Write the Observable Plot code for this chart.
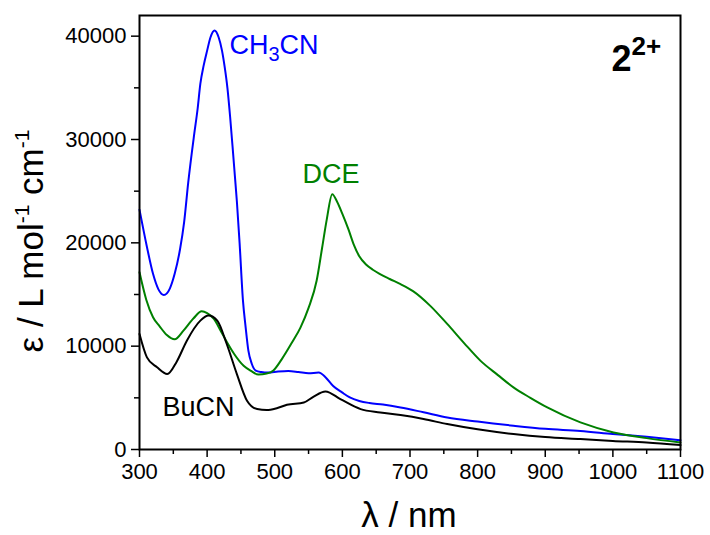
<!DOCTYPE html>
<html>
<head>
<meta charset="utf-8">
<script src="https://cdn.jsdelivr.net/npm/d3@7"></script>
<script src="https://cdn.jsdelivr.net/npm/@observablehq/plot@0.6"></script>
<style>
  body { margin: 0; background: #fff; }
  #chart svg { display: block; }
</style>
</head>
<body>
<div id="chart"></div>
<script>
// Absorption spectra of 2^2+ in three solvents (wavelength in nm, epsilon in L mol-1 cm-1)
const wlCH3CN = [300, 311, 320, 328, 336, 345, 352, 360, 366, 372, 381, 386, 390, 395, 400, 405, 411, 417, 422, 426, 430, 434, 438, 441, 444, 448, 453, 457, 461, 466, 472, 480, 490, 505, 520, 535, 550, 565, 575, 586, 600, 611, 625, 640, 660, 686, 720, 755, 800, 853, 900, 952, 1000, 1050, 1100];
const epsCH3CN = [23200, 19600, 17000, 15500, 14950, 15600, 17000, 19400, 22000, 25800, 30560, 33000, 35400, 37200, 38600, 39900, 40550, 39900, 38600, 37000, 35000, 32200, 29000, 26500, 24000, 20000, 14400, 11800, 9560, 8300, 7630, 7500, 7450, 7550, 7600, 7500, 7370, 7450, 7000, 6170, 5500, 5040, 4700, 4500, 4350, 4070, 3600, 3100, 2700, 2300, 2000, 1800, 1500, 1230, 900];

const wlDCE = [300, 310, 320, 330, 340, 352, 365, 380, 392, 400, 410, 420, 430, 440, 454, 465, 476, 488, 498, 510, 525, 538, 550, 562, 570, 577, 585, 592, 600, 609, 617, 625, 635, 645, 655, 670, 686, 705, 730, 755, 780, 804, 830, 853, 878, 903, 952, 1001, 1050, 1100];
const epsDCE = [17150, 14500, 12800, 11900, 11100, 10660, 11500, 12700, 13370, 13200, 12640, 11500, 10300, 9240, 8100, 7600, 7250, 7350, 7650, 8700, 10300, 11800, 13700, 16350, 19500, 22300, 24700, 24000, 22800, 21300, 19800, 18700, 17900, 17400, 17000, 16500, 16000, 15300, 13900, 12150, 10300, 8600, 7200, 6010, 5000, 4070, 2620, 1650, 1100, 680];

const wlBuCN = [300, 311, 326, 341, 355, 370, 390, 402, 415, 429, 444, 459, 474, 488, 503, 518, 543, 557, 575, 597, 627, 656, 686, 720, 755, 800, 853, 900, 952, 1000, 1050, 1100];
const epsBuCN = [11180, 8920, 7950, 7300, 8500, 10530, 12470, 12960, 12470, 10210, 7300, 4720, 3910, 3820, 4000, 4330, 4550, 5100, 5620, 4880, 3910, 3590, 3330, 2950, 2460, 1950, 1490, 1200, 1010, 830, 680, 430];

const solvents = ["CH3CN", "DCE", "BuCN"];
const colors = ["#0000ff", "#008000", "#000000"];

// Tick values
const xMajor = [300, 400, 500, 600, 700, 800, 900, 1000, 1100];
const xMinor = [350, 450, 550, 650, 750, 850, 950, 1050];
const yMajor = [0, 10000, 20000, 30000, 40000];
const yMinor = [5000, 15000, 25000, 35000];

// Curve labels: text, left-edge wavelength, baseline epsilon
const labelText = ["CH3CN", "DCE", "BuCN", "22+"];
const labelX = [433, 541, 334, 998];
const labelY = [38300, 25800, 3270, 36630];

const series = [
  wlCH3CN.map((x, i) => ({solvent: solvents[0], wl: x, eps: epsCH3CN[i]})),
  wlDCE.map((x, i) => ({solvent: solvents[1], wl: x, eps: epsDCE[i]})),
  wlBuCN.map((x, i) => ({solvent: solvents[2], wl: x, eps: epsBuCN[i]}))
];
const labels = labelText.map((t, i) => ({t, x: labelX[i], y: labelY[i]}));

const font = "'Liberation Sans', Arial, Helvetica, sans-serif";

const chart = Plot.plot({
  width: 710,
  height: 535,
  marginLeft: 139,
  marginRight: 30,
  marginTop: 15,
  marginBottom: 86,
  style: {fontFamily: font, background: "#fff", color: "#000"},
  x: {domain: [300, 1100]},
  y: {domain: [0, 42000]},
  marks: [
    ...series.map((s, i) => Plot.line(s, {x: "wl", y: "eps", stroke: colors[i], strokeWidth: 2, curve: "monotone-x"})),
    Plot.axisX(xMajor, {tickSize: 8, tickPadding: 6, strokeWidth: 1.5, fontSize: 22, tickFormat: d => `${d}`, label: null}),
    Plot.axisX(xMinor, {tickSize: 5, strokeWidth: 1.5, tickFormat: () => "", label: null}),
    Plot.axisY(yMajor, {tickSize: 8, tickPadding: 5, strokeWidth: 1.5, fontSize: 22, tickFormat: d => `${d}`, label: null}),
    Plot.axisY(yMinor, {tickSize: 5, strokeWidth: 1.5, tickFormat: () => "", label: null}),
    Plot.frame({stroke: "#000", strokeWidth: 2}),
    Plot.text(labels.slice(0, 3), {x: "x", y: "y", text: "t", fill: (d, i) => colors[i], textAnchor: "start", lineAnchor: "bottom", fontSize: 27}),
    Plot.text(labels.slice(3), {x: "x", y: "y", text: "t", fill: "#000", textAnchor: "start", lineAnchor: "bottom", fontSize: 36, fontWeight: "bold"})
  ]
});

document.getElementById("chart").append(chart);
const svg = d3.select(chart);

// Rich text: subscripts and superscripts
function rich(textContent, parts) {
  svg.selectAll("text").filter(function () { return this.textContent === textContent; })
    .each(function () {
      const t = d3.select(this);
      t.text(null);
      for (const p of parts) {
        const ts = t.append("tspan").text(p.s);
        if (p.size) ts.attr("font-size", p.size);
        if (p.dy) ts.attr("dy", p.dy);
      }
    });
}
rich("CH3CN", [{s: "CH"}, {s: "3", size: 20, dy: 7}, {s: "CN", dy: -7}]);
rich("22+", [{s: "2"}, {s: "2+", size: 26, dy: -16}]);

// Axis titles
svg.append("text")
  .attr("x", 409).attr("y", 527)
  .attr("text-anchor", "middle")
  .attr("font-family", font).attr("font-size", 35).attr("fill", "#000")
  .text("\u03bb / nm");

const yt = svg.append("text")
  .attr("transform", "translate(43,241) rotate(-90)")
  .attr("text-anchor", "middle")
  .attr("font-family", font).attr("font-size", 35).attr("fill", "#000");
yt.append("tspan").text("\u03b5 / L mol");
yt.append("tspan").text("-1").attr("font-size", 21).attr("dy", -14);
yt.append("tspan").text(" cm").attr("dy", 14);
yt.append("tspan").text("-1").attr("font-size", 21).attr("dy", -14);
</script>
</body>
</html>
